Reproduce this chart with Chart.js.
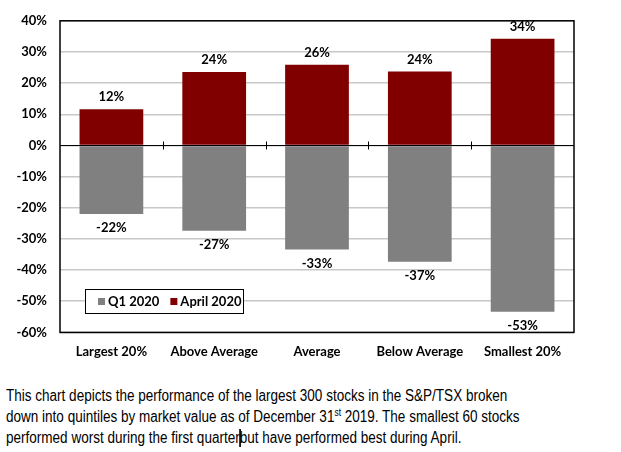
<!DOCTYPE html>
<html>
<head>
<meta charset="utf-8">
<script src="https://cdn.jsdelivr.net/npm/chart.js@4"></script>
<style>
    body { margin: 0; background: #fff; }
    #wrap { position: relative; width: 621px; height: 452px; overflow: hidden; }
    #box { position: absolute; left: 0; top: 0; width: 621px; height: 384px; }
    #caption {
        position: absolute; left: 6px; top: 385px; width: 720px;
        font-family: "Liberation Sans", Arial, sans-serif; font-size: 16px; line-height: 21px;
        color: #000; transform: scaleX(0.845); transform-origin: left top; white-space: nowrap;
    }
    #caption sup { font-size: 10px; line-height: 0; }
    .caret { display: inline-block; width: 2px; height: 18px; background: #000; vertical-align: -4px; margin: 0 -1px; }
</style>
</head>
<body>
<div id="wrap">
    <div id="box"><canvas id="grafico"></canvas></div>
    <div id="caption">This chart depicts the performance of the largest 300 stocks in the S&amp;P/TSX broken<br>down into quintiles by market value as of December 31<sup>st</sup> 2019. The smallest 60 stocks<br>performed worst during the first quarter<span class="caret"></span>but have performed best during April.</div>
</div>
<script>
const categorias = ["Largest 20%", "Above Average", "Average", "Below Average", "Smallest 20%"];
const q1_2020 = [-22.0, -27.4, -33.4, -37.3, -53.4];
const abril_2020 = [11.6, 23.6, 25.9, 23.7, 34.2];
const yTicks = [40, 30, 20, 10, 0, -10, -20, -30, -40, -50, -60];

const fonte = { family: "Lato, 'Open Sans', sans-serif", size: 13, weight: "bold" };

// caixa do gráfico, traços no eixo zero, rótulos e legenda
const extras = {
    id: "extras",
    afterDraw(chart) {
        const { ctx, chartArea: a, scales: { x, y } } = chart;
        ctx.save();
        // linha do zero + traços entre categorias
        const y0 = Math.round(y.getPixelForValue(0)) + 0.5;
        ctx.strokeStyle = "#000";
        ctx.lineWidth = 1;
        ctx.beginPath();
        ctx.moveTo(a.left, y0); ctx.lineTo(a.right, y0);
        for (let i = 0; i < categorias.length - 1; i++) {
            const xp = Math.round((x.getPixelForValue(i) + x.getPixelForValue(i + 1)) / 2) + 0.5;
            ctx.moveTo(xp, y0 - 4); ctx.lineTo(xp, y0 + 4);
        }
        ctx.stroke();
        ctx.lineWidth = 1.5;
        ctx.strokeRect(a.left, a.top, a.right - a.left, a.bottom - a.top);

        // rótulos de valor
        ctx.font = `bold 13px ${fonte.family}`;
        ctx.fillStyle = "#000";
        ctx.textAlign = "center";
        ctx.textBaseline = "middle";
        chart.data.datasets.forEach((ds, di) => {
            chart.getDatasetMeta(di).data.forEach((bar, i) => {
                const v = ds.data[i];
                const txt = Math.round(v) + "%";
                const yy = v >= 0 ? bar.y - 12 : bar.y + 14;
                ctx.fillText(txt, bar.x, yy);
            });
        });

        // legenda dentro da área
        const lx = 85, ly = 289, lw = 158, lh = 24;
        ctx.fillStyle = "#fff";
        ctx.fillRect(lx, ly, lw, lh);
        ctx.strokeStyle = "#000";
        ctx.lineWidth = 1;
        ctx.strokeRect(lx + 0.5, ly + 0.5, lw, lh);
        ctx.textAlign = "left";
        let cx = lx + 13;
        chart.data.datasets.forEach(ds => {
            ctx.fillStyle = ds.backgroundColor;
            ctx.fillRect(cx, ly + 9, 7, 7);
            ctx.fillStyle = "#000";
            ctx.fillText(ds.label, cx + 10, ly + 13);
            cx += ctx.measureText(ds.label).width + 21;
        });
        ctx.restore();
    }
};

new Chart(document.getElementById("grafico"), {
    type: "bar",
    data: {
        labels: categorias,
        datasets: [
            { label: "Q1 2020", data: q1_2020, backgroundColor: "#808080" },
            { label: "April 2020", data: abril_2020, backgroundColor: "#800000" }
        ]
    },
    plugins: [extras],
    options: {
        responsive: true,
        maintainAspectRatio: false,
        animation: false,
        layout: { padding: { left: 0, right: 47, top: 18, bottom: 12 } },
        datasets: { bar: { barPercentage: 0.62, categoryPercentage: 1 } },
        plugins: { legend: { display: false }, tooltip: { enabled: false } },
        scales: {
            x: {
                stacked: true,
                grid: { display: false, drawTicks: false },
                border: { display: false },
                ticks: { color: "#000", font: fonte, padding: 12 }
            },
            y: {
                stacked: true,
                min: -60, max: 40,
                afterFit: s => { s.width = 60; },
                afterBuildTicks: s => { s.ticks = yTicks.map(v => ({ value: v })); },
                grid: { color: "#c8c8c8", drawTicks: false, lineWidth: 1.5 },
                border: { display: false },
                ticks: { color: "#000", font: fonte, padding: 13, callback: v => v + "%" }
            }
        }
    }
});
</script>
</body>
</html>
